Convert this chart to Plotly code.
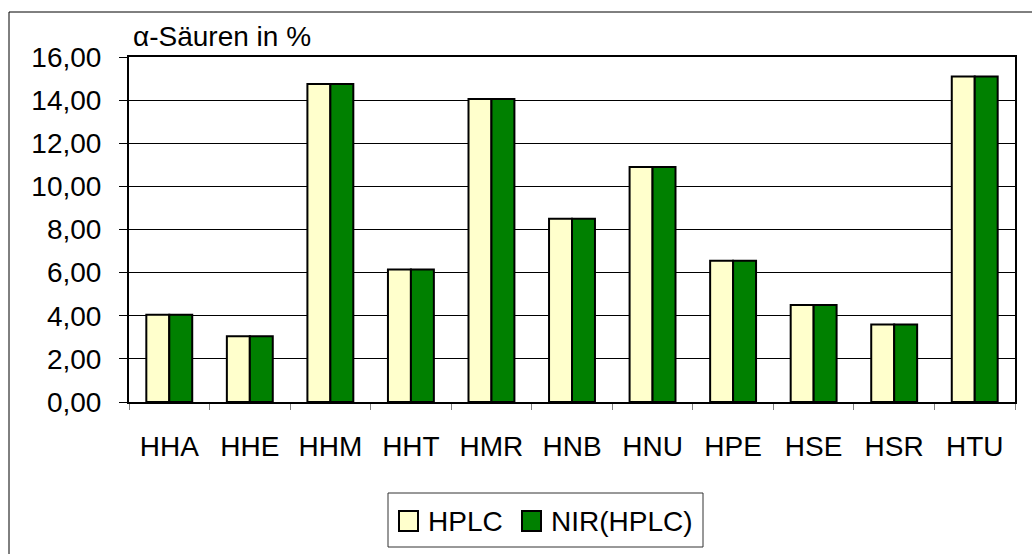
import plotly.graph_objects as go

categories = ["HHA", "HHE", "HHM", "HHT", "HMR", "HNB", "HNU", "HPE", "HSE", "HSR", "HTU"]
hplc = [4.05, 3.05, 14.75, 6.15, 14.05, 8.50, 10.90, 6.55, 4.50, 3.60, 15.10]
nir_hplc = [4.05, 3.05, 14.75, 6.15, 14.05, 8.50, 10.90, 6.55, 4.50, 3.60, 15.10]
y_ticks = [0, 2, 4, 6, 8, 10, 12, 14, 16]
series_names = ["HPLC", "NIR(HPLC)"]
series_colors = ["#FFFFCC", "#008000"]

FONT = "Liberation Sans, Arial, sans-serif"
FS = 28

fig = go.Figure()
for name, vals, col in zip(series_names, [hplc, nir_hplc], series_colors):
    fig.add_trace(go.Bar(x=categories, y=vals, name=name, showlegend=False,
                         marker=dict(color=col, line=dict(color="black", width=2))))

L, R, T, B = 129, 17, 57, 152
W, H = 1032, 554
pw = W - L - R
ph = H - T - B

def px_x(p):
    return (p - L) / pw

def px_y(p):
    return (H - B - p) / ph

shapes = [
    dict(type="line", xref="paper", yref="paper", x0=px_x(9), x1=px_x(1040),
         y0=px_y(12), y1=px_y(12), line=dict(color="black", width=1)),
    dict(type="line", xref="paper", yref="paper", x0=px_x(9), x1=px_x(9),
         y0=px_y(12), y1=px_y(560), line=dict(color="black", width=1)),
    # legend box
    dict(type="rect", xref="paper", yref="paper", x0=px_x(388), x1=px_x(703),
         y0=px_y(547), y1=px_y(493), line=dict(color="#333333", width=1),
         fillcolor="white"),
]
annotations = [dict(text="α-Säuren in %", xref="paper", yref="paper",
                    x=px_x(131), y=px_y(37), xanchor="left", yanchor="middle",
                    showarrow=False, font=dict(family=FONT, size=FS, color="black"))]

legend_sq_x = [399, 522]
legend_tx_x = [426, 549]
for name, col, sx, tx in zip(series_names, series_colors, legend_sq_x, legend_tx_x):
    shapes.append(dict(type="rect", xref="paper", yref="paper",
                       x0=px_x(sx), x1=px_x(sx + 19), y0=px_y(531), y1=px_y(511),
                       line=dict(color="black", width=2), fillcolor=col))
    annotations.append(dict(text=name, xref="paper", yref="paper",
                            x=px_x(tx), y=px_y(521), xanchor="left", yanchor="middle",
                            showarrow=False,
                            font=dict(family=FONT, size=FS, color="black")))

fig.update_layout(
    width=W, height=H,
    margin=dict(l=L, r=R, t=T, b=B, autoexpand=False),
    paper_bgcolor="white", plot_bgcolor="white",
    separators=",.",
    barmode="group", bargap=0.43, bargroupgap=0,
    font=dict(family=FONT, size=FS, color="black"),
    showlegend=False,
    xaxis=dict(type="category", showline=True, linecolor="black", linewidth=2, mirror=True,
               ticks="outside", tickson="boundaries", ticklen=6, tickcolor="gray", tickwidth=1,
               ticklabelstandoff=18, showgrid=False,
               tickfont=dict(family=FONT, size=FS, color="black")),
    yaxis=dict(range=[0, 16], tickvals=y_ticks, tickformat=".2f",
               showline=True, linecolor="black", linewidth=2, mirror=True,
               ticks="outside", ticklen=8, tickcolor="black", tickwidth=1,
               ticklabelstandoff=12,
               showgrid=True, gridcolor="black", gridwidth=1, zeroline=False,
               tickfont=dict(family=FONT, size=FS, color="black")),
    annotations=annotations,
    shapes=shapes,
)

fig.write_html("out.html",
               config={"displayModeBar": False},
               post_script="document.body.style.margin='0';document.body.style.overflow='hidden';")
